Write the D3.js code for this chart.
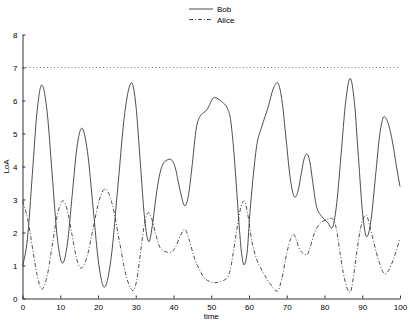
<!DOCTYPE html>
<html><head><meta charset="utf-8">
<script src="https://cdn.jsdelivr.net/npm/d3@7"></script>
<style>
body{margin:0;background:#fff;}
svg{display:block;font-family:"Liberation Sans",Arial,sans-serif;}
</style></head>
<body>
<svg id="chart" width="410" height="323"></svg>
<script>
const bobTime = [0,1.3,2.6,3.8,5.1,6.5,7.85,9.2,10.6,11.9,13.15,14.4,15.7,17.2,18.7,20.2,21.7,23.5,25.3,27.1,28.9,30.05,31.2,32.35,33.5,34.5,35.5,36.4,37.7,39.1,40.4,41.7,43.0,44.0,44.8,46.1,47.0,48.8,50.8,52.8,54.3,55.0,55.8,56.6,57.4,58.0,58.7,59.5,60.3,61.2,62.0,63.4,65.1,66.4,67.5,68.7,69.85,71.0,72.2,73.0,73.75,74.5,75.3,76.1,76.8,77.9,79.3,81.0,81.9,83.1,84.35,85.6,86.8,87.9,89.0,90.1,91.2,92.35,93.5,94.65,95.8,96.9,98.0,99.0,100];
const bobValue = [1.0,1.8,3.75,5.6,6.47,5.68,3.77,1.86,1.07,1.67,3.12,4.56,5.16,4.46,2.75,1.04,0.34,1.25,3.44,5.63,6.54,5.84,4.13,2.42,1.72,2.3,3.2,3.79,4.15,4.22,3.99,3.3,2.81,3.15,3.89,5.2,5.51,5.71,6.09,5.96,5.76,5.5,4.7,3.5,2.2,1.4,1.02,1.4,2.68,3.8,4.6,5.21,5.81,6.35,6.54,6.03,4.8,3.58,3.07,3.26,3.72,4.19,4.38,4.15,3.6,2.78,2.48,2.28,2.13,2.75,4.3,5.95,6.67,5.97,4.27,2.57,1.87,2.4,3.69,4.98,5.51,5.3,4.75,4.05,3.39];

const aliceTime = [0,1.3,2.55,3.8,5.1,6.5,7.9,9.3,10.7,11.9,13.1,14.3,15.5,17.1,18.7,20.3,21.9,23.75,25.6,27.45,29.3,30.3,31.3,32.3,33.3,34.3,35.3,36.4,37.7,39.1,40.5,41.8,43.0,44.2,45.7,47.0,47.9,49.5,51.0,52.5,54.1,55.0,55.8,56.8,57.8,58.7,59.6,60.7,62.0,63.4,65.6,67.5,68.7,70.0,71.0,71.8,72.6,73.5,75.3,76.2,77.0,78.3,80.3,81.9,83.2,84.1,85.0,86.8,87.6,88.5,89.7,91.0,92.0,92.9,94.5,96.0,97.0,98.2,100];
const aliceValue = [2.95,2.45,1.6,0.75,0.28,0.67,1.62,2.57,2.96,2.66,1.94,1.22,0.92,1.27,2.12,2.97,3.32,2.87,1.78,0.69,0.24,0.58,1.42,2.26,2.6,2.4,1.95,1.55,1.43,1.39,1.55,1.9,2.1,1.75,1.17,0.85,0.66,0.52,0.48,0.52,0.61,0.85,1.37,2.1,2.75,2.96,2.6,1.77,1.2,0.86,0.45,0.22,0.6,1.37,1.8,1.95,1.75,1.47,1.32,1.55,1.87,2.2,2.38,2.43,2.08,1.4,0.76,0.18,0.6,1.37,2.2,2.53,2.2,1.77,1.1,0.74,0.85,1.17,1.82];

const thresholdValue = 7;
const xTicks = [0,10,20,30,40,50,60,70,80,90,100];
const yTicks = [0,1,2,3,4,5,6,7,8];
const seriesNames = ["Bob","Alice"];

const svg = d3.select("#chart");
const m = {left:22.5, right:10, top:34.5, bottom:24.5};
const W = 410, H = 323;
const x = d3.scaleLinear().domain([0,100]).range([m.left, 400]);
const y = d3.scaleLinear().domain([0,8]).range([298.5, 34.5]);
const axisColor = "#333";
const lineColor = "#3a3a3a";

// threshold dotted line
svg.append("line")
  .attr("x1", x(0)).attr("x2", x(100))
  .attr("y1", y(thresholdValue)).attr("y2", y(thresholdValue))
  .attr("stroke", "#777").attr("stroke-width", 1)
  .attr("stroke-dasharray", "1,2.5");

const line = d3.line().x(d => x(d[0])).y(d => y(d[1])).curve(d3.curveMonotoneX);
const bob = bobTime.map((t,i) => [t, bobValue[i]]);
const alice = aliceTime.map((t,i) => [t, aliceValue[i]]);

svg.append("path").datum(alice).attr("d", line)
  .attr("fill","none").attr("stroke", lineColor).attr("stroke-width", 0.9)
  .attr("stroke-dasharray", "4,2,1,2");
svg.append("path").datum(bob).attr("d", line)
  .attr("fill","none").attr("stroke", lineColor).attr("stroke-width", 0.9);

// axes
const xAxis = d3.axisBottom(x).tickValues(xTicks).tickSizeInner(-3).tickSizeOuter(0).tickPadding(6);
const yAxis = d3.axisLeft(y).tickValues(yTicks).tickSizeInner(-3).tickSizeOuter(0).tickPadding(5);
const gx = svg.append("g").attr("transform", `translate(0,${y(0)})`).call(xAxis);
const gy = svg.append("g").attr("transform", `translate(${x(0)},0)`).call(yAxis);
[gx, gy].forEach(g => {
  g.selectAll("path").attr("stroke", axisColor).attr("stroke-width", 1);
  g.selectAll("line").attr("stroke", axisColor).attr("stroke-width", 1);
  g.selectAll("text").attr("fill", "#000").style("font-size", "8px").style("font-family", '"Liberation Sans",Arial,sans-serif');
});

// axis labels
svg.append("text").attr("x", x(50)).attr("y", 319).attr("text-anchor","middle")
  .style("font-size","8px").text("time");
svg.append("text").attr("transform", `translate(9,${y(4)}) rotate(-90)`).attr("text-anchor","middle")
  .style("font-size","8px").text("LoA");

// legend
const leg = svg.append("g");
const legY = [9, 19.5];
seriesNames.forEach((name, i) => {
  leg.append("line").attr("x1", 189).attr("x2", 213).attr("y1", legY[i]).attr("y2", legY[i])
    .attr("stroke", lineColor).attr("stroke-width", 0.9)
    .attr("stroke-dasharray", i === 1 ? "4,2,1,2" : null);
  leg.append("text").attr("x", 217).attr("y", legY[i] + 3).style("font-size","8px").text(name);
});
</script>
</body></html>
